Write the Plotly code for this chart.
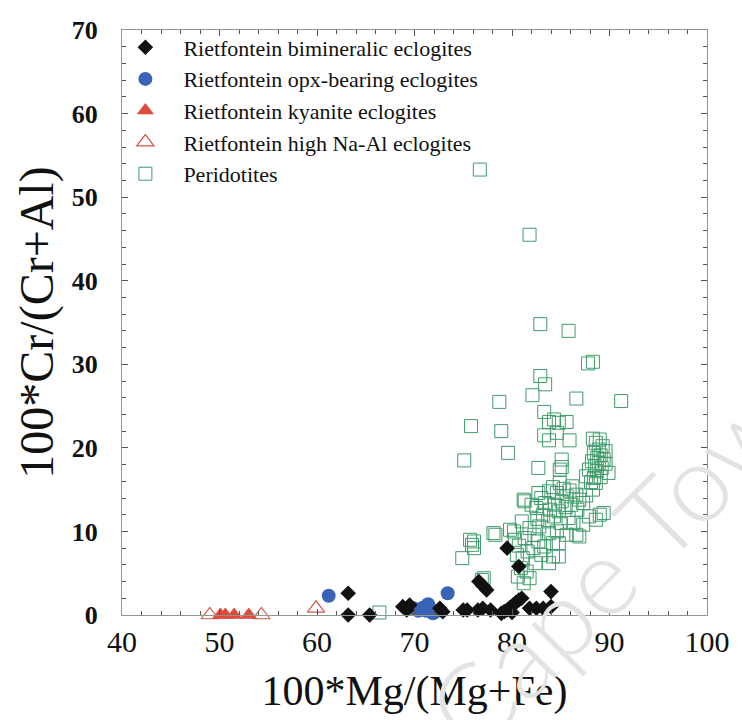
import plotly.graph_objects as go

# Garnet compositions: 100*Mg/(Mg+Fe) vs 100*Cr/(Cr+Al)
bim_mg = [63.2, 63.2, 65.4, 68.8, 69.2, 69.5, 72.6, 72.9, 75.0, 75.4, 76.5, 77.0,
          77.8, 78.9, 79.2, 79.5, 79.8, 80.1, 80.4, 80.7, 81.0, 80.0, 81.8, 82.5,
          83.2, 84.0, 84.0, 79.5, 80.7, 76.6, 77.1, 77.4]
bim_cr = [2.6, 0.0, 0.0, 1.0, 0.6, 1.2, 0.8, 0.4, 0.6, 0.6, 0.6, 0.8,
          0.6, 0.2, 0.4, 0.6, 0.9, 1.2, 1.5, 1.8, 2.0, 0.3, 0.8, 0.8,
          0.8, 1.0, 2.8, 8.0, 5.8, 4.0, 3.4, 3.0]

opx_mg = [61.2, 73.4, 69.9, 70.4, 70.9, 71.4, 71.2, 71.9, 72.4]
opx_cr = [2.3, 2.6, 0.8, 0.5, 0.9, 1.3, 0.5, 0.2, 0.5]

ky_mg = [50.1, 50.6, 51.5, 53.0, 59.9]
ky_cr = [0.0, 0.0, 0.0, 0.0, -0.3]

hna_mg = [49.0, 54.3, 59.9]
hna_cr = [0.0, 0.0, 0.8]

per_mg = [76.7, 81.8, 82.9, 85.8, 87.8, 88.3, 82.9, 83.4, 82.1, 78.7, 86.6, 91.2,
          75.8, 78.9, 79.6, 75.1, 83.3, 83.8, 84.3, 84.8, 85.6, 84.6, 83.3, 83.8,
          85.9, 82.7, 85.1, 85.1, 84.9,
          88.3, 89.0, 88.6, 89.3, 88.9, 89.6, 88.4, 89.1, 88.7, 89.4, 88.2, 88.9,
          89.6, 88.5, 89.2, 87.9, 88.7, 89.9, 87.6, 88.4, 89.1, 88.1, 88.6,
          82.7, 81.2, 81.3, 82.0, 82.5, 83.0, 83.4, 83.8, 84.2, 84.6, 84.9, 85.3,
          85.6, 85.9, 86.2, 86.6, 86.9, 85.1, 84.4, 83.9, 84.8, 85.5, 86.1, 86.7,
          87.3, 87.6, 88.3, 83.2, 82.6, 83.7, 84.3, 85.0, 85.8, 86.3, 87.3, 87.9,
          88.6, 89.0, 89.4, 84.6, 83.8, 85.6, 86.6, 86.9, 84.2, 84.8, 84.2, 84.8,
          83.8,
          80.2, 79.8, 80.3, 78.3, 78.1, 80.7, 81.3, 81.8, 82.3, 82.8, 81.0, 80.5,
          81.1, 81.6, 82.2, 82.7, 80.9, 81.5, 81.8, 81.2, 80.6, 82.4, 83.0, 83.3,
          75.7, 75.9, 76.1, 76.1, 74.9, 77.1, 66.4, 76.9]
per_cr = [53.3, 45.5, 34.8, 34.0, 30.1, 30.3, 28.6, 27.6, 26.3, 25.5, 25.9, 25.6,
          22.6, 22.0, 19.4, 18.5, 24.3, 23.1, 23.4, 23.0, 23.1, 21.8, 21.5, 20.9,
          20.9, 17.6, 18.6, 17.7, 17.4,
          21.1, 21.0, 20.6, 20.2, 19.8, 19.6, 19.4, 19.1, 18.8, 18.6, 18.4, 18.2,
          18.1, 17.8, 17.6, 17.4, 17.2, 17.0, 16.6, 16.4, 16.5, 15.9, 15.8,
          14.6, 13.8, 13.6, 13.2, 12.8, 14.0, 13.4, 14.8, 15.3, 14.6, 15.8, 15.1,
          14.2, 14.9, 15.4, 14.4, 13.8, 13.6, 13.2, 12.6, 12.4, 12.9, 13.2, 12.6,
          13.4, 14.3, 15.0, 12.0, 11.5, 11.2, 11.8, 11.0, 11.6, 11.0, 10.8, 11.8,
          11.4, 12.0, 12.2, 10.0, 9.8, 9.6, 9.6, 9.4, 8.6, 8.6, 7.0, 7.0,
          6.2,
          10.0, 10.2, 9.0, 9.6, 9.8, 8.3, 9.2, 10.4, 9.6, 10.6, 11.2, 7.2,
          6.8, 7.6, 8.0, 8.8, 5.6, 5.2, 4.4, 3.8, 4.6, 6.2, 7.2, 8.2,
          9.0, 8.4, 8.8, 8.0, 6.8, 4.4, 0.3, 4.2]

x_ticks = [40, 50, 60, 70, 80, 90, 100]
y_ticks = [0, 10, 20, 30, 40, 50, 60, 70]

SERIF = "Liberation Serif, Times New Roman, serif"

fig = go.Figure()

# peridotites drawn first so the eclogite symbols sit on top
fig.add_trace(go.Scatter(
    x=per_mg, y=per_cr, mode="markers", name="Peridotites",
    legendgroup="e", legendrank=5,
    marker=dict(symbol="square-open", size=13, color="#3f9b6a",
                line=dict(width=1, color="#3f9b6a")),
    cliponaxis=False))
fig.add_trace(go.Scatter(
    x=hna_mg, y=hna_cr, mode="markers", name="Rietfontein high Na-Al eclogites",
    legendgroup="d", legendrank=4,
    marker=dict(symbol="triangle-up-open", size=15, color="#d8564a",
                line=dict(width=1.2, color="#d8564a")),
    cliponaxis=False))
fig.add_trace(go.Scatter(
    x=ky_mg, y=ky_cr, mode="markers", name="Rietfontein kyanite eclogites",
    legendgroup="c", legendrank=3,
    marker=dict(symbol="triangle-up", size=15, color="#dc4b3c"),
    cliponaxis=False))
fig.add_trace(go.Scatter(
    x=opx_mg, y=opx_cr, mode="markers", name="Rietfontein opx-bearing eclogites",
    legendgroup="b", legendrank=2,
    marker=dict(symbol="circle", size=14, color="#3a63b8"),
    cliponaxis=False))
fig.add_trace(go.Scatter(
    x=bim_mg, y=bim_cr, mode="markers", name="Rietfontein bimineralic eclogites",
    legendgroup="a", legendrank=1,
    marker=dict(symbol="diamond", size=12, color="#111111"),
    cliponaxis=False))

axis_common = dict(
    showline=True, linecolor="#8c9a8c", linewidth=1, mirror="allticks",
    showgrid=False, zeroline=False, ticks="inside", ticklen=6,
    tickcolor="#555555", tickwidth=1,
)

fig.update_xaxes(
    range=[40, 100], tickvals=x_ticks, **axis_common,
    minor=dict(dtick=2, ticks="inside", ticklen=4, tickcolor="#555555"),
    tickfont=dict(family=SERIF, size=30, color="#111111"),
    ticklabelstandoff=0,
    title=dict(text="100*Mg/(Mg+Fe)", standoff=18,
               font=dict(family=SERIF, size=42, color="#111111")),
)
fig.update_yaxes(
    range=[0, 70], tickvals=y_ticks, **axis_common,
    minor=dict(dtick=2, ticks="inside", ticklen=4, tickcolor="#555555"),
    tickfont=dict(family=SERIF, size=26, color="#111111", weight="bold"),
    ticklabelstandoff=18,
    title=dict(text="100*Cr/(Cr+Al)", standoff=2,
               font=dict(family=SERIF, size=48, color="#111111")),
)

# faint diagonal watermark
fig.add_annotation(
    text="Cape Town", xref="paper", yref="paper", x=0.865, y=0.12,
    xanchor="center", yanchor="middle",
    showarrow=False, textangle=-45,
    font=dict(family="Lato, DejaVu Sans, sans-serif", size=108,
              color="#e3e3e3", weight=300),
)

fig.update_layout(
    width=742, height=720,
    margin=dict(l=122, r=30, t=30, b=105),
    paper_bgcolor="white", plot_bgcolor="white",
    showlegend=True,
    legend=dict(
        x=-0.025, y=1.006, xanchor="left", yanchor="top",
        bgcolor="rgba(0,0,0,0)", borderwidth=0,
        font=dict(family=SERIF, size=22, color="#111111"),
        itemwidth=66, tracegroupgap=0, traceorder="grouped",
    ),
)

fig.write_html("out.html")
